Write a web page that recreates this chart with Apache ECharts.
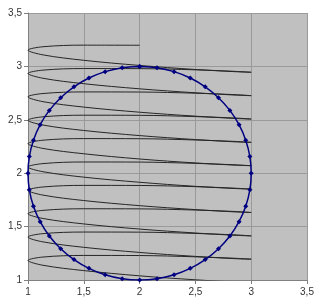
<!DOCTYPE html>
<html>
<head>
<meta charset="utf-8">
<script src="https://cdn.jsdelivr.net/npm/echarts@6/dist/echarts.min.js"></script>
<style>
html,body{margin:0;padding:0;background:#fff;}
#c{width:320px;height:304px;}
</style>
</head>
<body>
<div id="c"></div>
<script>
// Tick labels
var tickValues = [1, 1.5, 2, 2.5, 3, 3.5];

// Circle series (blue, with markers)
var circleX = [2, 2.156, 2.309, 2.454, 2.588, 2.707, 2.809, 2.891, 2.951, 2.988, 3, 2.988, 2.951, 2.891, 2.809, 2.707, 2.588, 2.454, 2.309, 2.156, 2, 1.844, 1.691, 1.546, 1.412, 1.293, 1.191, 1.109, 1.049, 1.012, 1, 1.012, 1.049, 1.109, 1.191, 1.293, 1.412, 1.546, 1.691, 1.844, 2];
var circleY = [3, 2.988, 2.951, 2.891, 2.809, 2.707, 2.588, 2.454, 2.309, 2.156, 2, 1.844, 1.691, 1.546, 1.412, 1.293, 1.191, 1.109, 1.049, 1.012, 1, 1.012, 1.049, 1.109, 1.191, 1.293, 1.412, 1.546, 1.691, 1.844, 2, 2.156, 2.309, 2.454, 2.588, 2.707, 2.809, 2.891, 2.951, 2.988, 3];

// Spiral series (black line)
var spiralX = [
  2, 1.5, 1.134, 1, 1.134, 1.5, 2, 2.5, 2.866, 3, 2.866, 2.5,
  2, 1.5, 1.134, 1, 1.134, 1.5, 2, 2.5, 2.866, 3, 2.866, 2.5,
  2, 1.5, 1.134, 1, 1.134, 1.5, 2, 2.5, 2.866, 3, 2.866, 2.5,
  2, 1.5, 1.134, 1, 1.134, 1.5, 2, 2.5, 2.866, 3, 2.866, 2.5,
  2, 1.5, 1.134, 1, 1.134, 1.5, 2, 2.5, 2.866, 3, 2.866, 2.5,
  2, 1.5, 1.134, 1, 1.134, 1.5, 2, 2.5, 2.866, 3, 2.866, 2.5,
  2, 1.5, 1.134, 1, 1.134, 1.5, 2, 2.5, 2.866, 3, 2.866, 2.5,
  2, 1.5, 1.134, 1, 1.134, 1.5, 2, 2.5, 2.866, 3, 2.866, 2.5,
  2, 1.5, 1.134, 1, 1.134, 1.5, 2, 2.5, 2.866, 3, 2.866, 2.5,
  2, 1.5, 1.134, 1, 1.134, 1.5, 2, 2.5, 2.866, 3
];
var spiralY = [
  3.198, 3.199, 3.184, 3.152, 3.108, 3.057, 3.009, 2.971, 2.950, 2.945, 2.953, 2.968,
  2.979, 2.980, 2.965, 2.934, 2.889, 2.838, 2.790, 2.753, 2.731, 2.726, 2.735, 2.749,
  2.760, 2.761, 2.746, 2.715, 2.670, 2.619, 2.571, 2.534, 2.512, 2.507, 2.516, 2.530,
  2.542, 2.543, 2.528, 2.496, 2.451, 2.400, 2.352, 2.315, 2.293, 2.289, 2.297, 2.311,
  2.323, 2.324, 2.309, 2.277, 2.232, 2.182, 2.133, 2.096, 2.075, 2.070, 2.078, 2.092,
  2.104, 2.105, 2.090, 2.058, 2.014, 1.963, 1.915, 1.877, 1.856, 1.851, 1.859, 1.874,
  1.885, 1.886, 1.871, 1.840, 1.795, 1.744, 1.696, 1.659, 1.637, 1.632, 1.641, 1.655,
  1.666, 1.667, 1.652, 1.621, 1.576, 1.525, 1.477, 1.440, 1.418, 1.413, 1.422, 1.436,
  1.448, 1.449, 1.434, 1.402, 1.357, 1.306, 1.258, 1.221, 1.199, 1.195, 1.203, 1.217,
  1.229, 1.230, 1.215, 1.183, 1.138, 1.088, 1.039, 1.002, 0.981, 0.976
];

function pairs(xs, ys) {
  var out = [];
  for (var i = 0; i < xs.length; i++) out.push([xs[i], ys[i]]);
  return out;
}
function fmt(v) { return String(v).replace('.', ','); }

var chart = echarts.init(document.getElementById('c'), null, {renderer: 'canvas'});
var axisCommon = {
  type: 'value',
  min: tickValues[0],
  max: tickValues[tickValues.length - 1],
  interval: 0.5,
  axisLine: {show: true, onZero: false, lineStyle: {color: '#808080', width: 1}},
  axisTick: {show: true, inside: false, length: 4, lineStyle: {color: '#808080'}},
  splitLine: {show: true, lineStyle: {color: '#9a9a9a', width: 1}},
  axisLabel: {
    color: '#333',
    fontFamily: 'Liberation Sans, Arial, sans-serif',
    fontSize: 10,
    formatter: fmt
  }
};
chart.setOption({
  animation: false,
  backgroundColor: '#ffffff',
  grid: {
    left: 28, right: 13, top: 13, bottom: 24,
    show: true, backgroundColor: '#c0c0c0', borderWidth: 0
  },
  xAxis: echarts.util.merge({axisLabel: {margin: 7}}, axisCommon, true),
  yAxis: echarts.util.merge({axisLabel: {margin: 6}}, axisCommon, true),
  series: [
    {
      type: 'line',
      data: pairs(spiralX, spiralY),
      showSymbol: false,
      symbol: 'none',
      smooth: 0.35,
      clip: true,
      lineStyle: {color: '#262626', width: 1},
      z: 2
    },
    {
      type: 'line',
      data: pairs(circleX, circleY),
      symbol: 'diamond',
      symbolSize: 5,
      smooth: 0.3,
      clip: true,
      itemStyle: {color: '#000080', borderWidth: 0},
      lineStyle: {color: '#000080', width: 1.5},
      z: 3
    }
  ]
});
</script>
</body>
</html>
